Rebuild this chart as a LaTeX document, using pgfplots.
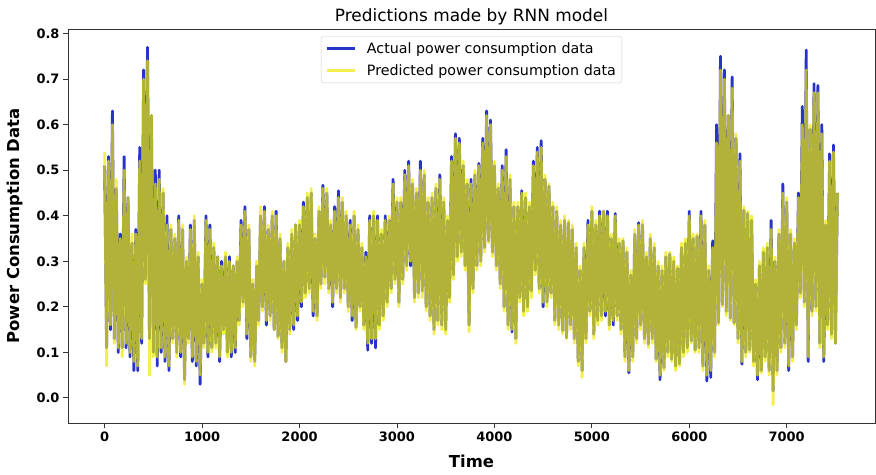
\documentclass[border=0pt]{standalone}
\usepackage{fontspec}
\setmainfont{DejaVu Sans}
\usepackage{pgfplots}
\pgfplotsset{compat=1.18}
\usepackage{pgfplotstable}

\definecolor{actualblue}{RGB}{40,52,200}
\definecolor{predyellow}{RGB}{238,232,0}

% t = time step, a = actual, p = predicted
\pgfplotstableread{
t a p
0 0.51 0.54
20 0.11 0.07
40 0.53 0.52
60 0.15 0.16
80 0.63 0.60
100 0.13 0.12
120 0.46 0.48
140 0.10 0.11
160 0.36 0.35
180 0.11 0.09
200 0.53 0.50
220 0.11 0.12
240 0.44 0.44
260 0.09 0.10
280 0.34 0.36
300 0.06 0.08
320 0.37 0.36
340 0.06 0.07
360 0.55 0.52
380 0.12 0.13
400 0.72 0.70
420 0.26 0.25
440 0.77 0.74
460 0.13 0.05
480 0.62 0.62
500 0.10 0.09
520 0.50 0.47
540 0.07 0.09
560 0.50 0.48
580 0.10 0.11
600 0.45 0.46
620 0.08 0.09
640 0.40 0.38
660 0.06 0.07
680 0.37 0.38
700 0.13 0.12
720 0.35 0.36
740 0.10 0.09
760 0.40 0.39
780 0.09 0.10
800 0.37 0.38
820 0.04 0.03
840 0.30 0.31
860 0.13 0.12
880 0.38 0.37
900 0.08 0.09
920 0.39 0.40
940 0.07 0.08
960 0.31 0.32
980 0.03 0.05
1000 0.25 0.26
1020 0.12 0.11
1040 0.40 0.39
1060 0.09 0.10
1080 0.38 0.37
1100 0.11 0.10
1120 0.33 0.34
1140 0.12 0.11
1160 0.31 0.31
1180 0.08 0.09
1200 0.30 0.29
1220 0.15 0.14
1240 0.31 0.32
1260 0.10 0.09
1280 0.31 0.30
1300 0.09 0.10
1320 0.29 0.29
1340 0.10 0.11
1360 0.30 0.31
1380 0.17 0.16
1400 0.39 0.38
1420 0.21 0.20
1440 0.42 0.41
1460 0.13 0.14
1480 0.37 0.38
1500 0.09 0.08
1520 0.25 0.26
1540 0.08 0.07
1560 0.29 0.30
1580 0.17 0.16
1600 0.40 0.42
1620 0.20 0.19
1640 0.42 0.41
1660 0.16 0.17
1680 0.37 0.38
1700 0.18 0.17
1720 0.40 0.41
1740 0.15 0.15
1760 0.41 0.40
1780 0.135 0.13
1800 0.35 0.36
1820 0.11 0.10
1840 0.30 0.30
1860 0.08 0.08
1880 0.33 0.34
1900 0.15 0.14
1920 0.36 0.37
1940 0.15 0.16
1960 0.38 0.38
1980 0.17 0.18
2000 0.38 0.39
2020 0.20 0.21
2040 0.43 0.42
2060 0.23 0.22
2080 0.44 0.45
2100 0.24 0.23
2120 0.45 0.46
2140 0.18 0.19
2160 0.35 0.36
2180 0.18 0.17
2200 0.41 0.42
2220 0.25 0.24
2240 0.467 0.46
2260 0.265 0.25
2280 0.45 0.46
2300 0.24 0.23
2320 0.38 0.39
2340 0.20 0.21
2360 0.42 0.41
2380 0.24 0.23
2400 0.455 0.44
2420 0.22 0.21
2440 0.43 0.44
2460 0.24 0.23
2480 0.40 0.41
2500 0.20 0.19
2520 0.39 0.38
2540 0.17 0.18
2560 0.40 0.41
2580 0.155 0.15
2600 0.37 0.38
2620 0.20 0.19
2640 0.33 0.34
2660 0.16 0.15
2680 0.32 0.31
2700 0.105 0.12
2720 0.40 0.39
2740 0.12 0.13
2760 0.40 0.41
2780 0.11 0.13
2800 0.40 0.39
2820 0.16 0.15
2840 0.36 0.37
2860 0.18 0.17
2880 0.40 0.39
2900 0.21 0.20
2920 0.39 0.40
2940 0.24 0.23
2960 0.48 0.47
2980 0.26 0.25
3000 0.43 0.44
3020 0.21 0.20
3040 0.43 0.44
3060 0.26 0.25
3080 0.50 0.49
3100 0.29 0.28
3120 0.52 0.51
3140 0.29 0.30
3160 0.47 0.48
3180 0.22 0.21
3200 0.45 0.46
3220 0.23 0.22
3240 0.52 0.50
3260 0.235 0.22
3280 0.49 0.50
3300 0.20 0.19
3320 0.43 0.44
3340 0.18 0.17
3360 0.44 0.45
3380 0.15 0.14
3400 0.46 0.47
3420 0.17 0.16
3440 0.49 0.48
3460 0.16 0.15
3480 0.43 0.44
3500 0.15 0.14
3520 0.39 0.40
3540 0.22 0.21
3560 0.53 0.52
3580 0.27 0.26
3600 0.58 0.57
3620 0.31 0.30
3640 0.57 0.56
3660 0.32 0.31
3680 0.51 0.52
3700 0.29 0.28
3720 0.47 0.48
3740 0.16 0.145
3760 0.48 0.47
3780 0.24 0.23
3800 0.49 0.50
3820 0.29 0.28
3840 0.515 0.51
3860 0.30 0.29
3880 0.57 0.56
3900 0.33 0.32
3920 0.63 0.62
3940 0.345 0.34
3960 0.61 0.60
3980 0.32 0.31
4000 0.51 0.52
4020 0.29 0.28
4040 0.46 0.47
4060 0.25 0.24
4080 0.51 0.50
4100 0.20 0.19
4120 0.545 0.53
4140 0.16 0.15
4160 0.48 0.49
4180 0.145 0.15
4200 0.42 0.43
4220 0.13 0.12
4240 0.42 0.43
4260 0.22 0.21
4280 0.455 0.45
4300 0.19 0.18
4320 0.44 0.45
4340 0.20 0.19
4360 0.42 0.43
4380 0.235 0.22
4400 0.52 0.51
4420 0.28 0.27
4440 0.55 0.54
4460 0.24 0.23
4480 0.565 0.55
4500 0.20 0.21
4520 0.48 0.49
4540 0.21 0.20
4560 0.465 0.47
4580 0.23 0.22
4600 0.42 0.43
4620 0.17 0.16
4640 0.41 0.42
4660 0.16 0.15
4680 0.38 0.39
4700 0.148 0.14
4720 0.39 0.40
4740 0.132 0.13
4760 0.385 0.39
4780 0.16 0.15
4800 0.37 0.38
4820 0.13 0.12
4840 0.33 0.34
4860 0.08 0.07
4880 0.28 0.29
4900 0.06 0.045
4920 0.33 0.34
4940 0.13 0.12
4960 0.39 0.38
4980 0.19 0.18
5000 0.41 0.42
5020 0.14 0.13
5040 0.38 0.39
5060 0.17 0.16
5080 0.41 0.40
5100 0.18 0.17
5120 0.41 0.41
5140 0.18 0.19
5160 0.41 0.40
5180 0.16 0.15
5200 0.35 0.36
5220 0.16 0.17
5240 0.405 0.40
5260 0.18 0.17
5280 0.34 0.35
5300 0.15 0.14
5320 0.345 0.35
5340 0.09 0.08
5360 0.32 0.33
5380 0.055 0.06
5400 0.27 0.28
5420 0.09 0.08
5440 0.36 0.37
5460 0.13 0.12
5480 0.385 0.38
5500 0.16 0.15
5520 0.38 0.39
5540 0.13 0.12
5560 0.31 0.32
5580 0.118 0.11
5600 0.35 0.36
5620 0.13 0.12
5640 0.33 0.34
5660 0.085 0.08
5680 0.29 0.30
5700 0.04 0.05
5720 0.28 0.29
5740 0.066 0.06
5760 0.31 0.32
5780 0.10 0.09
5800 0.316 0.32
5820 0.085 0.08
5840 0.30 0.31
5860 0.07 0.06
5880 0.285 0.29
5900 0.075 0.07
5920 0.33 0.34
5940 0.10 0.09
5960 0.34 0.35
5980 0.11 0.10
6000 0.41 0.40
6020 0.125 0.12
6040 0.35 0.36
6060 0.105 0.10
6080 0.355 0.36
6100 0.11 0.10
6120 0.41 0.40
6140 0.07 0.06
6160 0.38 0.39
6180 0.037 0.05
6200 0.28 0.29
6220 0.045 0.06
6240 0.345 0.33
6260 0.10 0.09
6280 0.60 0.56
6300 0.165 0.16
6320 0.75 0.72
6340 0.205 0.20
6360 0.72 0.70
6380 0.19 0.18
6400 0.62 0.62
6420 0.175 0.17
6440 0.705 0.68
6460 0.165 0.16
6480 0.57 0.58
6500 0.13 0.12
6520 0.536 0.52
6540 0.074 0.08
6560 0.412 0.42
6580 0.10 0.09
6600 0.405 0.41
6620 0.105 0.10
6640 0.39 0.40
6660 0.08 0.07
6680 0.25 0.26
6700 0.04 0.05
6720 0.29 0.30
6740 0.06 0.055
6760 0.32 0.33
6780 0.09 0.08
6800 0.33 0.34
6820 0.06 0.05
6840 0.39 0.37
6860 0.015 -0.015
6880 0.30 0.31
6900 0.06 0.05
6920 0.36 0.37
6940 0.11 0.10
6960 0.47 0.45
6980 0.12 0.11
7000 0.43 0.44
7020 0.06 0.07
7040 0.36 0.37
7060 0.09 0.08
7080 0.34 0.35
7100 0.16 0.15
7120 0.45 0.44
7140 0.23 0.22
7160 0.64 0.60
7180 0.21 0.20
7200 0.764 0.72
7220 0.08 0.09
7240 0.59 0.60
7260 0.19 0.18
7280 0.69 0.67
7300 0.20 0.19
7320 0.686 0.67
7340 0.12 0.11
7360 0.60 0.58
7380 0.08 0.09
7400 0.38 0.39
7420 0.16 0.15
7440 0.536 0.52
7460 0.14 0.13
7480 0.555 0.54
7500 0.12 0.12
7520 0.45 0.45
}\powerdata

\begin{document}
\begin{tikzpicture}
\begin{axis}[
  width=807bp, height=394bp, scale only axis,
  xmin=-376, xmax=7906, ymin=-0.055, ymax=0.81,
  xtick={0,1000,2000,3000,4000,5000,6000,7000},
  ytick={0,0.1,0.2,0.3,0.4,0.5,0.6,0.7,0.8},
  /pgf/number format/assume math mode=true,
  yticklabel style={/pgf/number format/.cd, fixed, fixed zerofill, precision=1},
  xticklabel style={/pgf/number format/1000 sep={}},
  ticklabel style={font=\fontsize{13}{15}\selectfont\bfseries},
  tick align=outside, tick pos=left,
  major tick length=5bp,
  tick style={black!80, line width=0.9bp},
  axis line style={black!80, line width=0.9bp},
  title={Predictions made by RNN model},
  title style={font=\fontsize{17}{20}\selectfont, at={(axis description cs:0.5,1.0157)}, anchor=center},
  xlabel={\bfseries Time},
  ylabel={\bfseries Power Consumption Data},
  label style={font=\fontsize{16.5}{19}\selectfont},
  xlabel style={at={(axis description cs:0.5,-0.0977)}, anchor=center},
  ylabel style={at={(axis description cs:-0.066,0.5)}, anchor=center},
  legend style={at={(0.5,0.982)}, anchor=north, draw=black!18, rounded corners=2.5bp,
    fill=white, font=\fontsize{14.3}{17}\selectfont, inner xsep=4bp, inner ysep=4bp,
    row sep=6bp, column sep=9bp},
  legend cell align=left,
  legend image code/.code={\draw[#1] (0bp,0bp) -- (28bp,0bp);},
]
\addplot[actualblue, line width=2.8bp, line join=round] table[x=t, y=a] {\powerdata};
\addlegendentry{Actual power consumption data}
\addplot[predyellow, draw opacity=0.7, line width=2.8bp, line join=round] table[x=t, y=p] {\powerdata};
\addlegendentry{Predicted power consumption data}
\end{axis}
\pgfresetboundingbox
\useasboundingbox ([shift={(-68bp,-52bp)}]current axis.south west) rectangle ([shift={(1bp,29bp)}]current axis.north east);
\end{tikzpicture}
\end{document}
